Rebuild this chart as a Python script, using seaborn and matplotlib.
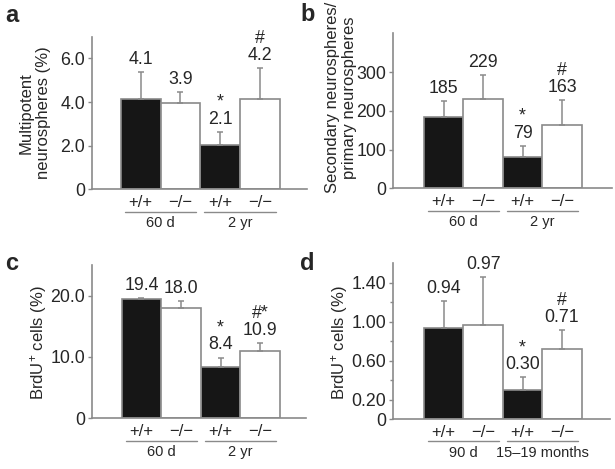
import numpy as np
import pandas as pd
import matplotlib
matplotlib.use("Agg")
import matplotlib.pyplot as plt
import matplotlib.transforms as mtransforms
import seaborn as sns

# data
genotypes = ["+/+", "−/−", "+/+", "−/−"]

a_means = [4.16, 3.96, 2.04, 4.16]
a_errs = [1.21, 0.50, 0.60, 1.39]
a_labels = ["4.1", "3.9", "*\n2.1", "#\n4.2"]
a_groups = ["60 d", "2 yr"]

b_means = [184, 230, 80, 163]
b_errs = [40, 62, 30, 64]
b_labels = ["185", "229", "*\n79", "#\n163"]
b_groups = ["60 d", "2 yr"]

c_means = [19.45, 18.05, 8.4, 10.95]
c_errs = [0.2, 1.1, 1.5, 1.35]
c_labels = ["19.4", "18.0", "*\n8.4", "#*\n10.9"]
c_groups = ["60 d", "2 yr"]

d_means = [0.94, 0.97, 0.30, 0.72]
d_errs = [0.27, 0.49, 0.13, 0.19]
d_labels = ["0.94", "0.97", "*\n0.30", "#\n0.71"]
d_groups = ["90 d", "15–19 months"]

GRAY = "#8a8a8a"
BLACK = "#161616"

sns.set_theme(style="white")
plt.rcParams["font.family"] = ["Liberation Sans", "DejaVu Sans"]
plt.rcParams["mathtext.fontset"] = "custom"
plt.rcParams["mathtext.rm"] = "Liberation Sans"
plt.rcParams["mathtext.it"] = "Liberation Sans"

fig = plt.figure(figsize=(6.15, 4.69), dpi=100)


def px_axes(x0, x1, y0, y1):
    # pixel box (from top-left) -> figure fraction
    W, H = 615, 469
    return fig.add_axes([x0 / W, 1 - y1 / H, (x1 - x0) / W, (y1 - y0) / H])


def draw_panel(ax, means, errs, labels, groups, ylim, yticks, yticklabels,
               ylabel, xlim, label_xy, minor=None):
    df = pd.DataFrame({"pos": ["p0", "p1", "p2", "p3"],
                       "genotype": genotypes, "value": means})
    sns.barplot(data=df, x="pos", y="value", hue="genotype",
                palette={"+/+": BLACK, "−/−": "white"}, dodge=False,
                width=1.0, edgecolor=GRAY, linewidth=1.2, legend=False, ax=ax)
    ax.errorbar(range(4), means, yerr=[np.zeros(4), errs], fmt="none",
                ecolor=GRAY, elinewidth=1.1, capsize=2, capthick=1.1)
    for i, (m, e, t) in enumerate(zip(means, errs, labels)):
        ax.annotate(t, xy=(i, m + e), xytext=(0, 3), textcoords="offset points",
                    ha="center", va="bottom", fontsize=12.8, linespacing=1.0)

    ax.set_xlim(*xlim)
    ax.set_ylim(*ylim)
    ax.set_xticks(range(4))
    ax.set_xticklabels(genotypes)
    ax.set_yticks(yticks)
    ax.set_yticklabels(yticklabels)
    if minor is not None:
        ax.set_yticks(minor, minor=True)
    ax.tick_params(axis="x", length=0, pad=4, labelsize=12)
    ax.tick_params(axis="y", which="major", left=True, length=3, width=1,
                   color=GRAY, labelsize=12.8, pad=2)
    ax.tick_params(axis="y", which="minor", left=True, length=2.5, width=1,
                   color=GRAY)
    ax.set_xlabel("")
    ax.set_ylabel(ylabel, fontsize=12, linespacing=1.2)
    ax.yaxis.set_label_coords(*label_xy)
    sns.despine(ax=ax)
    for s in ["left", "bottom"]:
        ax.spines[s].set_color(GRAY)
        ax.spines[s].set_linewidth(1.2)

    line_tr = ax.get_xaxis_transform() + mtransforms.ScaledTranslation(
        0, -16 / 72, fig.dpi_scale_trans)
    text_tr = ax.get_xaxis_transform() + mtransforms.ScaledTranslation(
        0, -24.5 / 72, fig.dpi_scale_trans)
    for k, g in enumerate(groups):
        ax.plot([2 * k - 0.4, 2 * k + 1.4], [0, 0], transform=line_tr,
                clip_on=False, color=GRAY, lw=1)
        ax.text(2 * k + 0.5, 0, g, transform=text_tr, ha="center",
                va="center", fontsize=10.5)


ax_a = px_axes(92, 306.7, 36.7, 189.3)
draw_panel(ax_a, a_means, a_errs, a_labels, a_groups, (0, 7), [0, 2, 4, 6],
           ["0", "2.0", "4.0", "6.0"], "Multipotent\nneurospheres (%)",
           (-1.22, 4.17), (-0.19, 0.5))

ax_b = px_axes(393.3, 611.7, 33.3, 188.3)
draw_panel(ax_b, b_means, b_errs, b_labels, b_groups, (0, 400),
           [0, 100, 200, 300], ["0", "100", "200", "300"],
           "Secondary neurospheres/\nprimary neurospheres",
           (-1.28, 4.26), (-0.165, 0.585))

ax_c = px_axes(92, 306, 265, 418.3)
draw_panel(ax_c, c_means, c_errs, c_labels, c_groups, (0, 25), [0, 10, 20],
           ["0", "10.0", "20.0"], "BrdU$^{+}$ cells (%)",
           (-1.25, 4.16), (-0.2, 0.494))

ax_d = px_axes(393.3, 610, 263.3, 419)
draw_panel(ax_d, d_means, d_errs, d_labels, d_groups, (0, 1.6),
           [0, 0.2, 0.6, 1.0, 1.4], ["0", "0.20", "0.60", "1.00", "1.40"],
           "BrdU$^{+}$ cells (%)", (-1.28, 4.22), (-0.2, 0.49),
           minor=[0.4, 0.8, 1.2])

for letter, x, y in [("a", 5, 4), ("b", 300, 3), ("c", 5, 252), ("d", 300, 252)]:
    fig.text(x / 615, 1 - y / 469, letter, fontsize=17, fontweight="bold",
             ha="left", va="top")

fig.savefig("out.png", dpi=100)
